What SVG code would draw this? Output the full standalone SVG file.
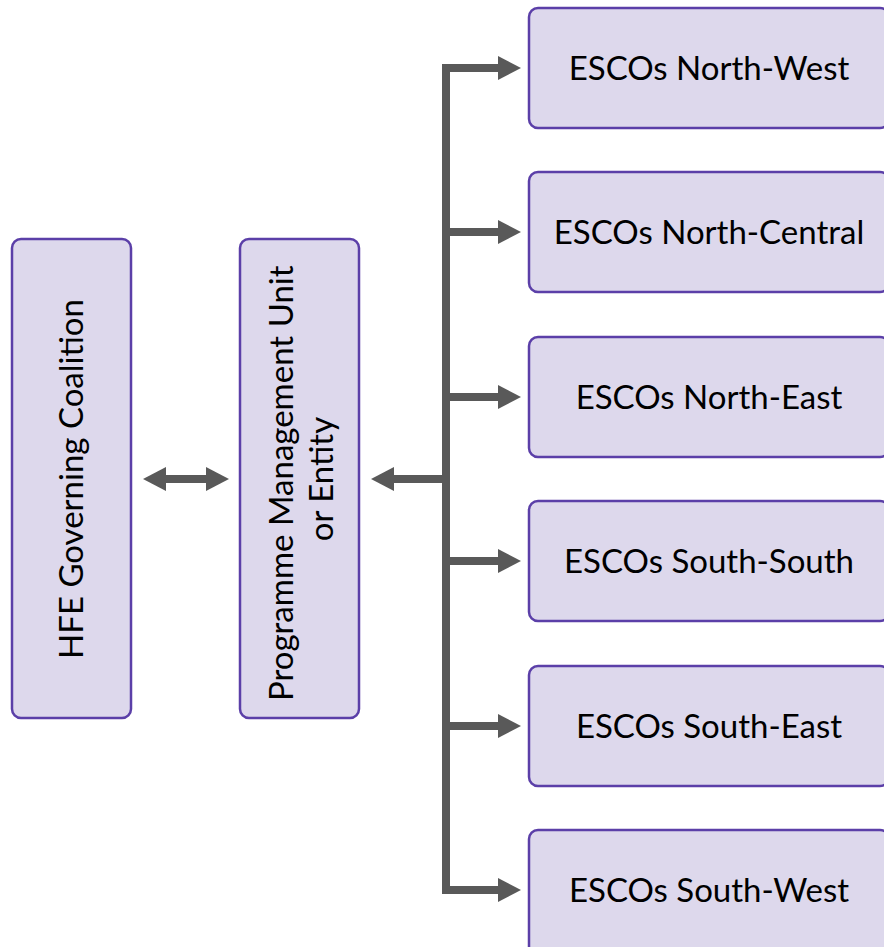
<svg xmlns="http://www.w3.org/2000/svg" width="884" height="947" viewBox="0 0 884 947">
  <style>
    .box { fill: #ddd8ec; stroke: #5b3fa8; stroke-width: 2.5; }
    .label { font-family: "Lato", "Open Sans", "Liberation Sans", sans-serif; font-size: 33px; fill: #000; text-anchor: middle; dominant-baseline: central; }
    .wire { fill: none; stroke: #595959; stroke-width: 8; stroke-linejoin: miter; }
  </style>
  <defs>
    <marker id="head" markerUnits="userSpaceOnUse" markerWidth="24" markerHeight="24" refX="0" refY="12" orient="auto-start-reverse">
      <path d="M0,0 L23,12 L0,24 Z" fill="#595959"/>
    </marker>
  </defs>
  <rect width="884" height="947" fill="#ffffff"/>

  <g id="connectors">
    <!-- coalition <-> management unit -->
    <line class="wire" x1="166" y1="479" x2="206" y2="479" marker-start="url(#head)" marker-end="url(#head)"/>
    <!-- trunk to management unit -->
    <line class="wire" x1="446" y1="479" x2="394" y2="479" marker-end="url(#head)"/>
    <!-- bus feeding the regional ESCOs -->
    <path class="wire" d="M498,68 H446 V890 H498" marker-start="url(#head)" marker-end="url(#head)"/>
    <line class="wire" x1="446" y1="232" x2="498" y2="232" marker-end="url(#head)"/>
    <line class="wire" x1="446" y1="397" x2="498" y2="397" marker-end="url(#head)"/>
    <line class="wire" x1="446" y1="561" x2="498" y2="561" marker-end="url(#head)"/>
    <line class="wire" x1="446" y1="726" x2="498" y2="726" marker-end="url(#head)"/>
  </g>

  <g id="hfe-coalition">
    <rect class="box" x="12" y="239" width="119" height="479" rx="9"/>
    <text class="label" transform="translate(70,479) rotate(-90)">HFE Governing Coalition</text>
  </g>

  <g id="programme-unit">
    <rect class="box" x="240" y="239" width="119" height="479" rx="9"/>
    <text class="label" transform="translate(300,479) rotate(-90)">
      <tspan x="0" y="-20">Programme Management Unit</tspan>
      <tspan x="0" y="20">or Entity</tspan>
    </text>
  </g>

  <g id="esco-north-west">
    <rect class="box" x="529" y="8" width="360" height="120" rx="9"/>
    <text class="label" x="709" y="67">ESCOs North-West</text>
  </g>
  <g id="esco-north-central">
    <rect class="box" x="529" y="172" width="360" height="120" rx="9"/>
    <text class="label" x="709" y="231">ESCOs North-Central</text>
  </g>
  <g id="esco-north-east">
    <rect class="box" x="529" y="337" width="360" height="120" rx="9"/>
    <text class="label" x="709" y="396">ESCOs North-East</text>
  </g>
  <g id="esco-south-south">
    <rect class="box" x="529" y="501" width="360" height="120" rx="9"/>
    <text class="label" x="709" y="560">ESCOs South-South</text>
  </g>
  <g id="esco-south-east">
    <rect class="box" x="529" y="666" width="360" height="120" rx="9"/>
    <text class="label" x="709" y="725">ESCOs South-East</text>
  </g>
  <g id="esco-south-west">
    <rect class="box" x="529" y="830" width="360" height="130" rx="9"/>
    <text class="label" x="709" y="889">ESCOs South-West</text>
  </g>
</svg>
